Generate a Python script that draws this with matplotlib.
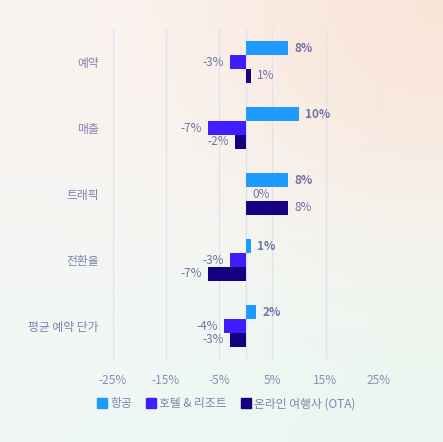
import matplotlib
matplotlib.use("Agg")
import matplotlib.pyplot as plt
from matplotlib.lines import Line2D
import numpy as np

plt.rcParams['font.family'] = ['Noto Sans CJK KR', 'DejaVu Sans']

categories = ['예약', '매출', '트래픽', '전환율', '평균 예약 단가']
series_names = ['항공', '호텔 & 리조트', '온라인 여행사 (OTA)']
airline = [8, 10, 8, 1, 2]
hotel = [-3, -7, 0, -3, -4]
ota = [1, -2, 8, -7, -3]
x_ticks = [-25, -15, -5, 5, 15, 25]

colors = ['#1e9bff', '#3f1dfc', '#150082']
label_color = '#6e73a6'
cat_color = '#7d82b0'
tick_color = '#8a8eb8'
grid_color = '#e0e2ef'

fig = plt.figure(figsize=(4.43, 4.42), dpi=100)

# soft gradient background
bg = fig.add_axes([0, 0, 1, 1], zorder=-10)
grad = np.array([
    [[250, 244, 241], [250, 239, 232], [250, 228, 215]],
    [[246, 245, 243], [246, 245, 242], [246, 243, 238]],
    [[240, 248, 246], [238, 248, 244], [235, 246, 240]],
]) / 255.0
bg.imshow(grad, aspect='auto', interpolation='bicubic', extent=[0, 1, 0, 1])
bg.axis('off')

ax = fig.add_axes([112.7 / 443, 1 - 359 / 442, 266 / 443, 330 / 442])
ax.set_facecolor('none')

y = np.arange(len(categories))
h = 0.212
all_series = [airline, hotel, ota]
for k, vals in enumerate(all_series):
    pos = y + (k - 1) * h
    ax.barh(pos, vals, height=h, color=colors[k], zorder=3)
    for p, v in zip(pos, vals):
        off = 4.5 if v >= 0 else -4.5
        ax.annotate(f'{v}%', (v, p), xytext=(off, 0), textcoords='offset points',
                    ha='left' if v >= 0 else 'right', va='center',
                    fontsize=8.5, color=label_color,
                    fontweight='bold' if k == 0 else 'normal')

ax.set_xlim(-25, 25)
ax.set_ylim(len(categories) - 0.5, -0.5)
ax.set_xticks(x_ticks)
ax.set_xticklabels([f'{t}%' for t in x_ticks], color=tick_color, fontsize=8.5)
ax.set_yticks(y)
ax.set_yticklabels(categories, color=cat_color, fontsize=8.5)
ax.tick_params(axis='x', length=0, pad=11)
ax.tick_params(axis='y', length=0, pad=10)
for t in x_ticks + [0]:
    ax.axvline(t, color=grid_color, linewidth=1, zorder=1)
for s in ax.spines.values():
    s.set_visible(False)

handles = [Line2D([], [], marker='s', linestyle='none', markersize=7,
                  markerfacecolor=c, markeredgecolor=c) for c in colors]
leg = fig.legend(handles, series_names, loc='center', ncol=3, frameon=False,
                 bbox_to_anchor=(226 / 443, 1 - 404 / 442), fontsize=8.5,
                 handletextpad=0.2, columnspacing=1.1, handlelength=1.0)
for t in leg.get_texts():
    t.set_color(cat_color)

fig.savefig('out.png', dpi=100)
